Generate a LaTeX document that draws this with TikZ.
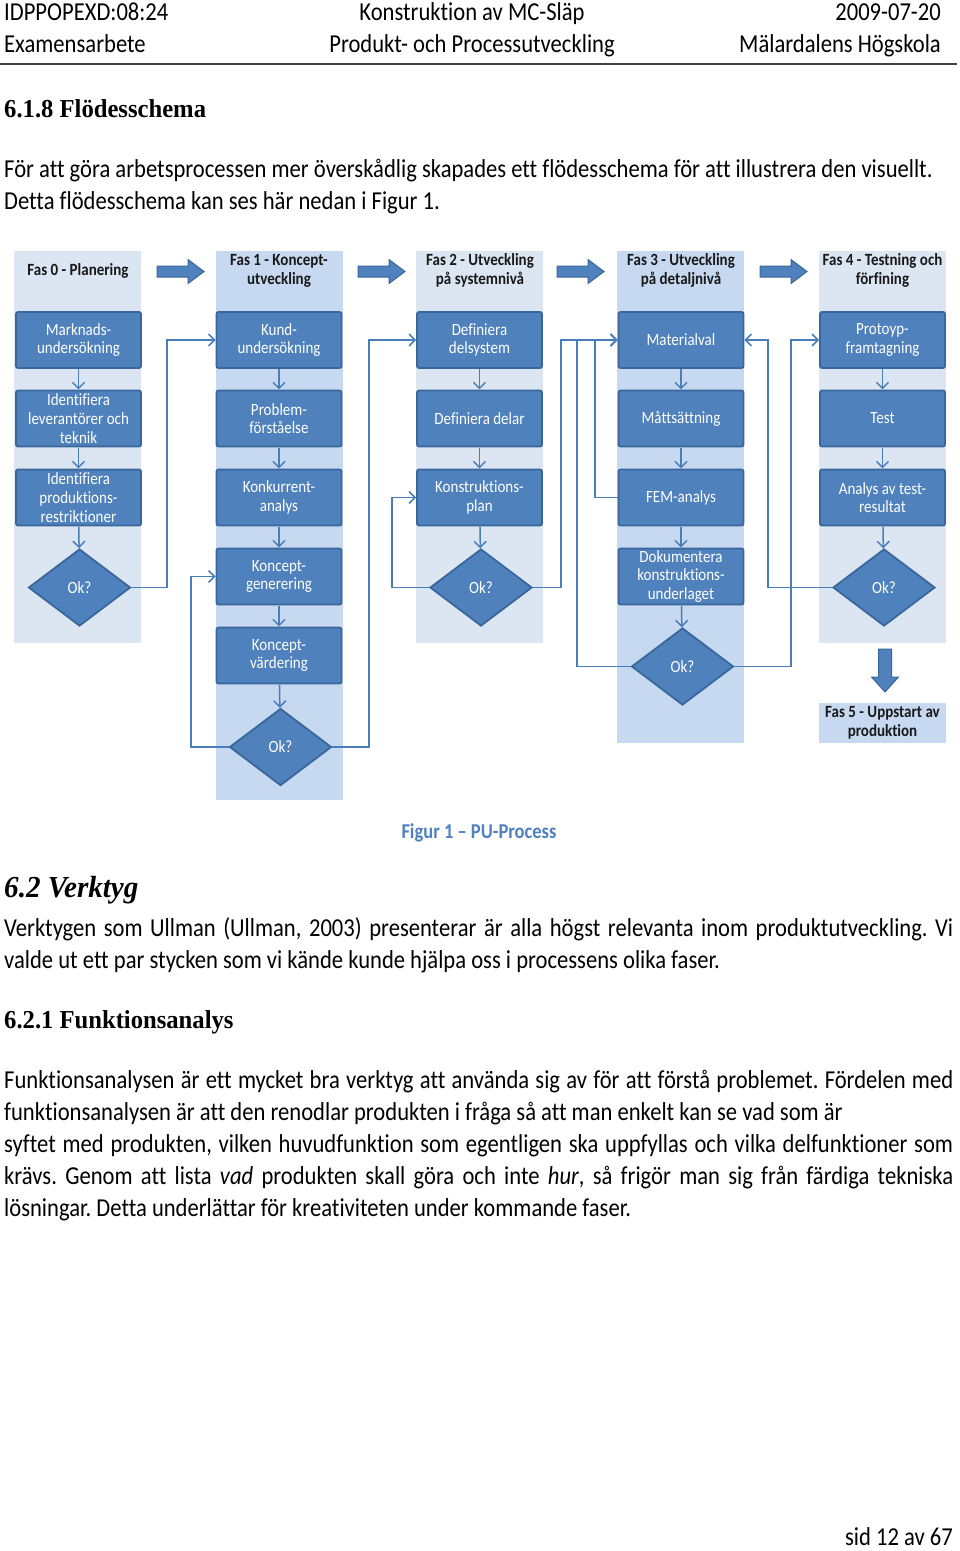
\documentclass[tikz,border=0pt]{standalone}
\usepackage{fontspec}
\setmainfont{Carlito}[Ligatures=NoCommon]
\newfontfamily\headfont{Liberation Serif}
\usepackage{graphicx}
\usetikzlibrary{shapes.geometric,arrows.meta}
\definecolor{boxblue}{HTML}{4F81BD}
\definecolor{boxedge}{HTML}{3A679B}
\definecolor{bglight}{HTML}{DCE6F2}
\definecolor{bgdark}{HTML}{C6D9F0}
\definecolor{linecol}{HTML}{4A7EBB}
\definecolor{rulecol}{HTML}{404040}
\newcommand\fsz[2]{\fontsize{#1}{#2}\selectfont}
\newcommand\jline[1]{\makebox[949pt][s]{#1}}
\frenchspacing
\begin{document}
\begin{tikzpicture}[x=1pt,y=-1pt,
  vs/.style={yscale=1.143},
  body/.style={vs,anchor=base west,inner sep=0pt,font=\fsz{22.6}{27}},
  bodyr/.style={vs,anchor=base east,inner sep=0pt,font=\fsz{22.6}{27}},
  bodyc/.style={vs,anchor=base,inner sep=0pt,font=\fsz{22.6}{27}},
  head/.style={vs,xscale=1.09,anchor=base west,inner sep=0pt,font=\headfont\bfseries\fsz{22.6}{27}},
  phase/.style={vs,inner sep=0pt,align=center,font=\bfseries\fsz{15}{16.6},text=black!90},
  stepbox/.style={vs,draw=boxedge,line width=1.8pt,fill=boxblue,rounded corners=2pt,text=white,align=center,font=\fsz{15}{16.3},minimum width=125pt,minimum height=49pt,inner sep=0.5pt},
  okdia/.style={vs,diamond,draw=boxedge,line width=1.8pt,fill=boxblue,text=white,font=\fsz{15}{16},minimum width=102pt,minimum height=67.5pt,inner sep=0pt},
  conn/.style={draw=linecol,line width=1.5pt,-{Straight Barb[length=6pt,width=12pt]}},
  bigarrow/.style={fill=boxblue,draw=boxedge,line width=1pt},
]
\useasboundingbox (0,0) rectangle (960,1551);
\fill[white] (0,0) rectangle (960,1551);

% page header
\node[body] (hl1) at (4,20) {IDPPOPEXD:08:24};
\node[bodyc] (hc1) at (472,20) {Konstruktion av MC-Släp};
\node[bodyr] (hr1) at (941,20) {2009-07-20};
\node[body] (hl2) at (4,52) {Examensarbete};
\node[bodyc] (hc2) at (472,52) {Produkt- och Processutveckling};
\node[bodyr] (hr2) at (941,52) {Mälardalens Högskola};
\draw[rulecol,line width=1.5pt] (0,64) -- (957,64);

\node[head] (s618) at (4,117) {6.1.8 Flödesschema};
\node[body] (p1) at (4,177) {För att göra arbetsprocessen mer överskådlig skapades ett flödesschema för att illustrera den visuellt.};
\node[body] (p2) at (4,209) {Detta flödesschema kan ses här nedan i Figur 1.};

% column backgrounds
\fill[bglight] (14,251) rectangle (141,643);
\fill[bgdark] (215.5,251) rectangle (342.5,800);
\fill[bglight] (416,251) rectangle (543,643);
\fill[bgdark] (617,251) rectangle (744,743);
\fill[bglight] (819,251) rectangle (946,643);

% phase headers
\node[phase] (h0) at (78,271) {Fas 0 - Planering};
\node[phase] (h1) at (279,270.5) {Fas 1 - Koncept-\\utveckling};
\node[phase] (h2) at (480,270.5) {Fas 2 - Utveckling\\på systemnivå};
\node[phase] (h3) at (681,270.5) {Fas 3 - Utveckling\\på detaljnivå};
\node[phase] (h4) at (882.5,270.5) {Fas 4 - Testning och\\förfining};

% block arrows between phases
\foreach \xa in {157,358,557,760}
  \filldraw[bigarrow] (\xa,266) -- (\xa+31,266) -- (\xa+31,259.5) -- (\xa+47,271.5) -- (\xa+31,283.5) -- (\xa+31,277) -- (\xa,277) -- cycle;

% column 0
\node[stepbox] (m0a) at (78.5,340) {Marknads-\\undersökning};
\node[stepbox] (m0b) at (78.5,418.5) {Identifiera\\leverantörer och\\teknik};
\node[stepbox] (m0c) at (78.5,497.5) {Identifiera\\produktions-\\restriktioner};
\node[okdia] (d0) at (79.5,587.5) {Ok?};
% column 1
\node[stepbox] (m1a) at (279,340) {Kund-\\undersökning};
\node[stepbox] (m1b) at (279,418.5) {Problem-\\förståelse};
\node[stepbox] (m1c) at (279,497.5) {Konkurrent-\\analys};
\node[stepbox] (m1d) at (279,576.5) {Koncept-\\generering};
\node[stepbox] (m1e) at (279,655.5) {Koncept-\\värdering};
\node[okdia] (d1) at (280.5,747) {Ok?};
% column 2
\node[stepbox] (m2a) at (479.5,340) {Definiera\\delsystem};
\node[stepbox] (m2b) at (479.5,418.5) {Definiera delar};
\node[stepbox] (m2c) at (479.5,497.5) {Konstruktions-\\plan};
\node[okdia] (d2) at (481,587.5) {Ok?};
% column 3
\node[stepbox] (m3a) at (681,340) {Materialval};
\node[stepbox] (m3b) at (681,418.5) {Måttsättning};
\node[stepbox] (m3c) at (681,497.5) {FEM-analys};
\node[stepbox] (m3d) at (681,576.5) {Dokumentera\\konstruktions-\\underlaget};
\node[okdia] (d3) at (682.5,666.5) {Ok?};
% column 4
\node[stepbox] (m4a) at (882.5,340) {Protoyp-\\framtagning};
\node[stepbox] (m4b) at (882.5,418.5) {Test};
\node[stepbox] (m4c) at (882.5,497.5) {Analys av test-\\resultat};
\node[okdia] (d4) at (884,587.5) {Ok?};

% phase 5
\filldraw[bigarrow] (878.5,649) -- (891.5,649) -- (891.5,677) -- (898.5,677) -- (885,692) -- (871.5,677) -- (878.5,677) -- cycle;
\node[phase,fill=bgdark,minimum width=127pt,minimum height=35pt] (f5) at (882.5,723) {Fas 5 - Uppstart av\\produktion};

% vertical flow
\draw[conn] (m0a) -- (m0b);
\draw[conn] (m0b) -- (m0c);
\draw[conn] (m0c) -- (d0);
\draw[conn] (m1a) -- (m1b);
\draw[conn] (m1b) -- (m1c);
\draw[conn] (m1c) -- (m1d);
\draw[conn] (m1d) -- (m1e);
\draw[conn] (m1e) -- (d1);
\draw[conn] (m2a) -- (m2b);
\draw[conn] (m2b) -- (m2c);
\draw[conn] (m2c) -- (d2);
\draw[conn] (m3a) -- (m3b);
\draw[conn] (m3b) -- (m3c);
\draw[conn] (m3c) -- (m3d);
\draw[conn] (m3d) -- (d3);
\draw[conn] (m4a) -- (m4b);
\draw[conn] (m4b) -- (m4c);
\draw[conn] (m4c) -- (d4);

% decision loops
\draw[conn] (d0.east) -- (d0.east -| 167,0) |- (m1a.west);
\draw[conn] (d1.west) -- (d1.west -| 191,0) |- (m1d.west);
\draw[conn] (d1.east) -- (d1.east -| 369,0) |- (m2a.west);
\draw[conn] (d2.west) -- (d2.west -| 392,0) |- (m2c.west);
\draw[conn] (d2.east) -- (d2.east -| 561,0) |- (m3a.west);
\draw[conn] (d3.west) -- (d3.west -| 577,0) |- (m3a.west);
\draw[conn] (m3c.west) -- (m3c.west -| 595,0) |- (m3a.west);
\draw[conn] (d4.west) -- (d4.west -| 768,0) |- (m3a.east);
\draw[conn] (d3.east) -- (d3.east -| 791,0) |- (m4a.west);

% caption and following text
\node[vs,anchor=base,inner sep=0pt,font=\bfseries\fsz{18.5}{22},text=boxblue] (cap) at (479,838) {Figur 1 – PU-Process};
\node[vs,xscale=1.09,anchor=base west,inner sep=0pt,font=\headfont\bfseries\itshape\fsz{26.7}{30}] (s62) at (4,897) {6.2 Verktyg};
\node[body] (v1) at (4,936) {\jline{Verktygen som Ullman (Ullman, 2003) presenterar är alla högst relevanta inom produktutveckling. Vi}};
\node[body] (v2) at (4,968) {valde ut ett par stycken som vi kände kunde hjälpa oss i processens olika faser.};
\node[head] (s621) at (4,1028) {6.2.1 Funktionsanalys};
\node[body] (f1) at (4,1088) {\jline{Funktionsanalysen är ett mycket bra verktyg att använda sig av för att förstå problemet. Fördelen med}};
\node[body] (f2) at (4,1120) {funktionsanalysen är att den renodlar produkten i fråga så att man enkelt kan se vad som är};
\node[body] (f3) at (4,1152) {\jline{syftet med produkten, vilken huvudfunktion som egentligen ska uppfyllas och vilka delfunktioner som}};
\node[body] (f4) at (4,1184) {\jline{krävs. Genom att lista \textit{vad} produkten skall göra och inte \textit{hur}, så frigör man sig från färdiga tekniska}};
\node[body] (f5t) at (4,1216) {lösningar. Detta underlättar för kreativiteten under kommande faser.};
\node[bodyr] (pg) at (953,1545) {sid 12 av 67};
\end{tikzpicture}
\end{document}
